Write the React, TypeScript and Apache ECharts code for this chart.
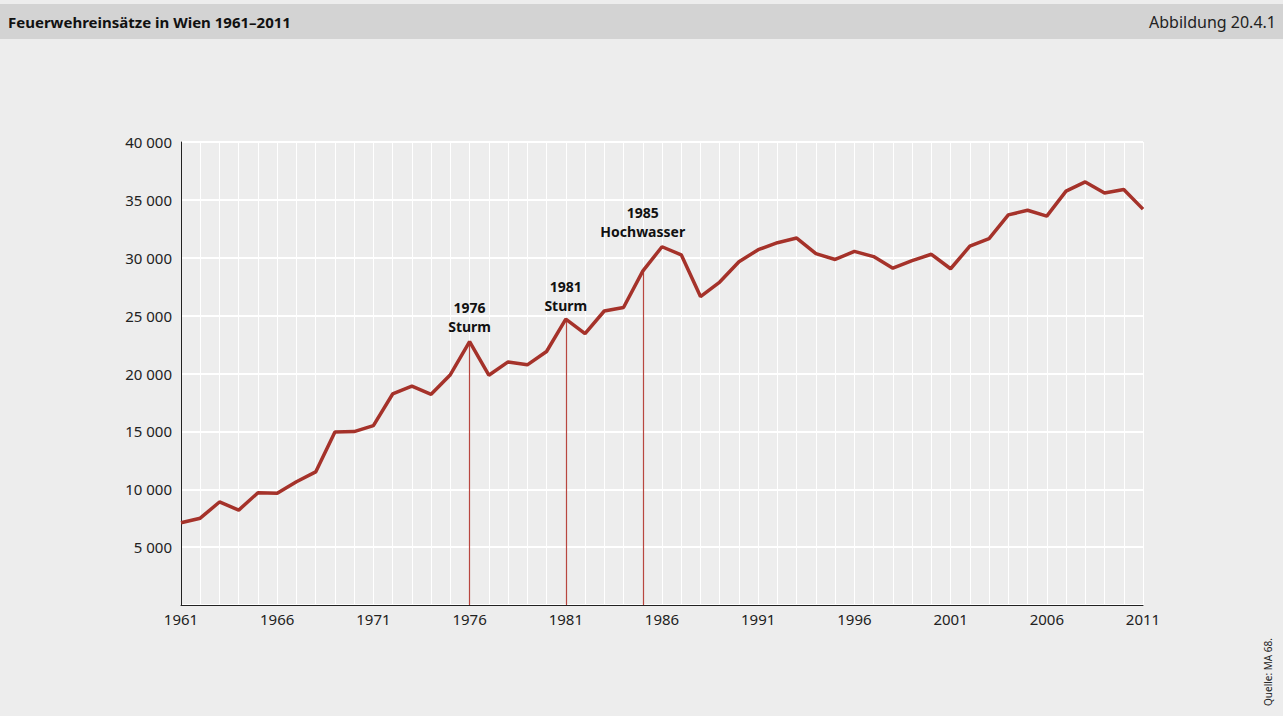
import React, { useEffect, useRef } from "react";
import * as echarts from "echarts";

const years: number[] = [];
for (let y = 1961; y <= 2011; y++) years.push(y);

const einsaetze = [
  7100, 7500, 8900, 8200, 9700, 9650, 10650, 11500, 14950, 14980,
  15500, 18230, 18900, 18200, 19900, 22750, 19850, 21000, 20750, 21900,
  24700, 23450, 25400, 25700, 28850, 30950, 30250, 26650, 27900, 29650,
  30700, 31300, 31700, 30350, 29850, 30550, 30100, 29100, 29750, 30300,
  29050, 31000, 31650, 33700, 34100, 33600, 35750, 36550, 35600, 35900, 34200,
];

const annotationYears = [1976, 1981, 1985];
const annotationTexts = ["1976\nSturm", "1981\nSturm", "1985\nHochwasser"];
const annotationGaps = [6, 4, 30];

const yTicks = [0, 5000, 10000, 15000, 20000, 25000, 30000, 35000, 40000];

const FONT = "'Noto Sans', sans-serif";

export default function App() {
  const ref = useRef<HTMLDivElement>(null);
  useEffect(() => {
    document.body.style.margin = "0";
    const chart = echarts.init(ref.current!, undefined, { renderer: "svg" });
    const data = years.map((y, i) => [y, einsaetze[i]]);
    const markData = annotationYears.map((yr, i) => {
      const v = einsaetze[years.indexOf(yr)];
      return [
        { coord: [yr, 0] },
        {
          coord: [yr, v],
          label: {
            show: true,
            position: "end",
            distance: annotationGaps[i],
            formatter: annotationTexts[i],
          },
        },
      ];
    });
    chart.setOption({
      animation: false,
      backgroundColor: "#ededed",
      textStyle: { fontFamily: FONT },
      graphic: [
        {
          type: "rect",
          z: -10,
          shape: { x: 0, y: 4, width: 1283, height: 35 },
          style: { fill: "#d3d3d3" },
        },
        {
          type: "text",
          x: 8,
          y: 22,
          style: {
            text: "Feuerwehreinsätze in Wien 1961–2011",
            font: `bold 15px ${FONT}`,
            fill: "#111",
            textVerticalAlign: "middle",
          },
        },
        {
          type: "text",
          x: 1276,
          y: 22,
          style: {
            text: "Abbildung 20.4.1",
            font: `16px ${FONT}`,
            fill: "#222",
            textAlign: "right",
            textVerticalAlign: "middle",
          },
        },
        {
          type: "text",
          x: 1268,
          y: 706,
          rotation: Math.PI / 2,
          style: {
            text: "Quelle: MA 68.",
            font: `10px ${FONT}`,
            fill: "#222",
            textAlign: "left",
            textVerticalAlign: "middle",
          },
        },
      ],
      grid: { left: 181, right: 140, top: 142, bottom: 111 },
      xAxis: {
        type: "value",
        min: 1961,
        max: 2011,
        interval: 1,
        axisLine: { show: true, lineStyle: { color: "#222", width: 1 } },
        axisTick: { show: false },
        axisLabel: {
          margin: 6,
          fontSize: 15,
          color: "#222",
          fontFamily: FONT,
          formatter: (v: number) => ((v - 1961) % 5 === 0 ? String(v) : ""),
        },
        splitLine: { show: true, lineStyle: { color: "#ffffff", width: 1 } },
      },
      yAxis: {
        type: "value",
        min: 0,
        max: 40000,
        interval: 5000,
        axisLine: { show: true, lineStyle: { color: "#222", width: 1 } },
        axisTick: { show: false },
        axisLabel: {
          margin: 9,
          fontSize: 15,
          color: "#222",
          fontFamily: FONT,
          formatter: (v: number) =>
            v === 0 || !yTicks.includes(v)
              ? ""
              : String(v).replace(/\B(?=(\d{3})+(?!\d))/g, " "),
        },
        splitLine: { show: true, lineStyle: { color: "#ffffff", width: 2 } },
      },
      series: [
        {
          type: "line",
          data,
          symbol: "none",
          lineStyle: { color: "#a5322a", width: 3.5 },
          z: 5,
          markLine: {
            silent: true,
            symbol: ["none", "none"],
            lineStyle: { color: "#b8463f", width: 1.2, type: "solid" },
            label: {
              show: true,
              position: "end",
              fontSize: 14,
              fontWeight: "bold",
              color: "#111",
              lineHeight: 19,
              fontFamily: FONT,
              align: "center",
            },
            emphasis: { disabled: true },
            data: markData,
          },
        },
      ],
    });
    return () => chart.dispose();
  }, []);
  return <div ref={ref} style={{ width: 1283, height: 716 }} />;
}
